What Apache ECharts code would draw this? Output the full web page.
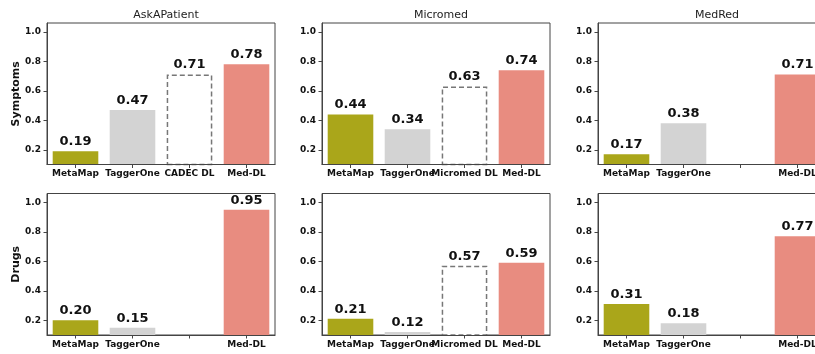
<!DOCTYPE html>
<html><head><meta charset="utf-8">
<script src="https://cdn.jsdelivr.net/npm/echarts@6/dist/echarts.min.js"></script>
<style>html,body{margin:0;padding:0;background:#fff}#c{width:815px;height:354px}</style>
</head><body><div id="c"></div>
<script>
const datasetTitles = ['AskAPatient', 'Micromed', 'MedRed'];
const rowNames = ['Symptoms', 'Drugs'];
const tickValues = [0.2, 0.4, 0.6, 0.8, 1.0];

const symAskCats = ['MetaMap', 'TaggerOne', 'CADEC DL', 'Med-DL'];
const symAskVals = [0.19, 0.47, 0.71, 0.78];
const symMicCats = ['MetaMap', 'TaggerOne', 'Micromed DL', 'Med-DL'];
const symMicVals = [0.44, 0.34, 0.63, 0.74];
const symRedCats = ['MetaMap', 'TaggerOne', '', 'Med-DL'];
const symRedVals = [0.17, 0.38, null, 0.71];

const drugAskCats = ['MetaMap', 'TaggerOne', '', 'Med-DL'];
const drugAskVals = [0.20, 0.15, null, 0.95];
const drugMicCats = ['MetaMap', 'TaggerOne', 'Micromed DL', 'Med-DL'];
const drugMicVals = [0.21, 0.12, 0.57, 0.59];
const drugRedCats = ['MetaMap', 'TaggerOne', '', 'Med-DL'];
const drugRedVals = [0.31, 0.18, null, 0.77];

const panels = [
  [symAskCats, symAskVals], [symMicCats, symMicVals], [symRedCats, symRedVals],
  [drugAskCats, drugAskVals], [drugMicCats, drugMicVals], [drugRedCats, drugRedVals]
];

const colLefts = [47, 322, 598];
const rowTops = [23, 193.5];
const W = 228, H = 141.5;
const barColors = ['#aaa61a', '#d3d3d3', 'dashed', '#e88c80'];
const FONT = 'DejaVu Sans';

const grid = [], xAxis = [], yAxis = [], series = [], title = [];
panels.forEach((p, i) => {
  const r = Math.floor(i / 3), c = i % 3;
  grid.push({left: colLefts[c], top: rowTops[r], width: W, height: H, show: true,
    borderColor: '#444', borderWidth: 1, backgroundColor: 'transparent', containLabel: false,
    outerBoundsMode: 'none'});
  xAxis.push({type: 'category', gridIndex: i, data: p[0], z: 5,
    axisLine: {show: true, lineStyle: {color: '#444', width: 1.2}},
    axisTick: {show: true, alignWithLabel: true, length: 3.5, lineStyle: {color: '#444'}},
    axisLabel: {interval: 0, margin: 5, color: '#111', fontFamily: FONT, fontWeight: 'bold', fontSize: 9},
    splitLine: {show: false}});
  yAxis.push({type: 'value', gridIndex: i, min: 0.1, max: 1.06,
    name: c === 0 ? rowNames[r] : '', nameLocation: 'middle', nameGap: 24, nameRotate: 90,
    nameTextStyle: {fontFamily: FONT, fontWeight: 'bold', fontSize: 11, color: '#111'},
    axisLine: {show: true, lineStyle: {color: '#444'}},
    axisTick: {show: true, length: 3.5, customValues: tickValues, lineStyle: {color: '#444'}},
    axisLabel: {customValues: tickValues, margin: 6, color: '#111', fontFamily: FONT, fontWeight: 'bold', fontSize: 9,
      formatter: v => v.toFixed(1)},
    splitLine: {show: false}});
  series.push({type: 'bar', xAxisIndex: i, yAxisIndex: i, barWidth: '80%', clip: true,
    data: p[1].map((v, k) => {
      if (v === null) return '-';
      const item = {value: v};
      if (barColors[k] === 'dashed') {
        item.itemStyle = {color: '#fff', borderColor: '#777', borderWidth: 1.5, borderType: [5, 3]};
      } else {
        item.itemStyle = {color: barColors[k]};
      }
      return item;
    }),
    label: {show: true, position: 'top', distance: 3, color: '#111', fontFamily: FONT, fontWeight: 'bold', fontSize: 13,
      formatter: d => d.value.toFixed(2)}});
  if (r === 0) {
    title.push({text: datasetTitles[c], left: colLefts[c] + W / 2, top: 5, textAlign: 'center',
      textStyle: {fontFamily: FONT, fontWeight: 'normal', fontSize: 11, color: '#222'}});
  }
});

const chart = echarts.init(document.getElementById('c'), null, {renderer: 'canvas'});
chart.setOption({animation: false, backgroundColor: '#fff', title, grid, xAxis, yAxis, series});
</script></body></html>
